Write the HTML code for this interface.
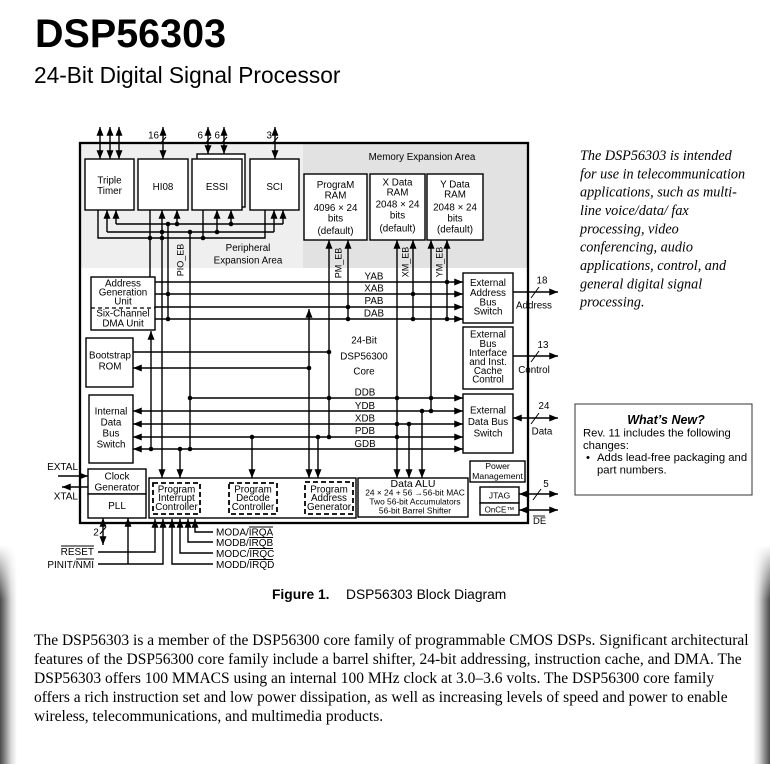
<!DOCTYPE html>
<html><head><meta charset="utf-8"><style>
html,body{margin:0;padding:0;background:#fff;}
body{width:770px;height:764px;overflow:hidden;position:relative;}
svg{position:absolute;left:0;top:0;}
text{font-family:"Liberation Sans",Arial,sans-serif;fill:#000;}
.s{font-family:"Liberation Serif","Times New Roman",serif;}
.e{marker-end:url(#a);}
.b{marker-start:url(#a);marker-end:url(#a);}
</style></head><body>
<svg width="770" height="764" viewBox="0 0 770 764" xmlns="http://www.w3.org/2000/svg">
<defs>
<marker id="a" viewBox="0 0 10 8" refX="10" refY="4" markerWidth="9" markerHeight="7" markerUnits="userSpaceOnUse" orient="auto-start-reverse"><path d="M0,0L10,4L0,8z" fill="#000"/></marker>
<linearGradient id="gl" x1="0" x2="1" y1="0" y2="0"><stop offset="0" stop-color="#4a4a4a"/><stop offset="0.3" stop-color="#8a8a8a"/><stop offset="0.65" stop-color="#d8d8d8"/><stop offset="1" stop-color="#fff"/></linearGradient>
<linearGradient id="gr" x1="1" x2="0" y1="0" y2="0"><stop offset="0" stop-color="#4a4a4a"/><stop offset="0.3" stop-color="#8a8a8a"/><stop offset="0.65" stop-color="#d8d8d8"/><stop offset="1" stop-color="#fff"/></linearGradient>
<linearGradient id="vf" x1="0" y1="0" x2="0" y2="1"><stop offset="0" stop-color="#000"/><stop offset="0.25" stop-color="#fff"/><stop offset="1" stop-color="#fff"/></linearGradient>
<mask id="m"><rect x="0" y="545" width="770" height="219" fill="url(#vf)"/></mask>
</defs>

<!-- page edge shading -->
<g mask="url(#m)">
<rect x="0" y="545" width="17" height="219" fill="url(#gl)"/>
<rect x="753" y="545" width="17" height="219" fill="url(#gr)"/>
</g>

<!-- Header -->
<text x="35" y="47" font-size="39.5" font-weight="bold">DSP56303</text>
<text x="34" y="83" font-size="22.7">24-Bit Digital Signal Processor</text>

<!-- background areas -->
<rect x="80" y="143" width="223" height="125" fill="#efefef"/>
<rect x="303" y="143" width="226" height="125" fill="#e2e2e2"/>
<rect x="80" y="143" width="448" height="380" fill="none" stroke="#000" stroke-width="2.3"/>

<g fill="none" stroke="#000" stroke-width="1.4">
<!-- top pin arrows -->
<path class="b" d="M100 127V159"/>
<path class="b" d="M110 127V159"/>
<path class="b" d="M119 127V159"/>
<path class="b" d="M163 127V159"/>
<path class="b" d="M208 127V154"/>
<path class="b" d="M224 127V154"/>
<path class="b" d="M275 127V159"/>
<path d="M160 144L166 137M205 144L211 137M221 144L227 137M272 144L278 137" stroke-width="1"/>

<!-- peripheral interconnect -->
<path d="M98 210V238H265V210"/>
<path d="M107 232H274"/>
<path class="e" d="M107 232V210"/>
<path class="e" d="M162 232V210"/>
<path class="e" d="M217 232V210"/>
<path class="e" d="M274 232V210"/>
<path d="M116 224H283"/>
<path class="e" d="M116 224V210"/>
<path class="e" d="M177 224V210"/>
<path class="e" d="M231 224V210"/>
<path class="e" d="M283 224V210"/>
<path d="M150 210V277"/>
<path d="M203 210V238"/>
<path class="e" d="M162 232V478"/>
<path d="M168 224V319"/>
<path d="M190 232V449"/>

<!-- memory expansion buses -->
<path class="e" d="M329 437V240"/>
<path class="e" d="M348 319V240"/>
<path class="b" d="M397 478V240"/>
<path class="e" d="M413 319V240"/>
<path class="e" d="M431 411V240"/>
<path class="e" d="M447 319V240"/>

<!-- address buses -->
<path class="e" d="M155 282H463"/>
<path class="e" d="M155 294H463"/>
<path class="e" d="M155 307H463"/>
<path class="e" d="M155 319H463"/>

<!-- core verticals -->
<path class="e" d="M151 449V331"/>
<path class="b" d="M309 478V309"/>
<path class="e" d="M318 437V478"/>
<path class="e" d="M252 437V478"/>
<path class="e" d="M180 449V478"/>
<path class="e" d="M409 424V478"/>
<path class="e" d="M422 411V478"/>

<!-- bootstrap -->
<path d="M133 352H329"/>
<path class="e" d="M309 368H133"/>

<!-- data buses -->
<path class="e" d="M190 398H463"/>
<path class="b" d="M133 411H463"/>
<path class="b" d="M133 424H463"/>
<path class="b" d="M133 437H463"/>
<path class="b" d="M133 449H463"/>

<!-- right outputs -->
<path class="e" d="M513 292H558"/>
<path class="e" d="M513 356H558"/>
<path class="b" d="M513 418H558"/>
<path class="b" d="M519 494H558"/>
<path class="b" d="M519 510H558"/>
<path d="M531 298L539 287M531 362L539 351M531 424L539 413M533 500L541 489" stroke-width="1"/>

<!-- program controllers -->
<path class="b" d="M200 497H229"/>
<path class="b" d="M277 497H305"/>

<!-- clock -->
<path class="e" d="M58 476H88"/>
<path class="e" d="M88 487H62"/>

<!-- bottom pins -->
<path class="b" d="M103 518V545"/>
<path d="M100 534L106 527" stroke-width="1"/>
<path class="e" d="M98 552H155V519"/>
<path class="e" d="M98 564H163V519"/>
<path class="e" d="M128 564V518"/>
<path class="e" d="M213 564H172V519"/>
<path class="e" d="M213 553H180V519"/>
<path class="e" d="M213 542H188V519"/>
<path class="e" d="M213 532H195V519"/>
</g>

<!-- boxes -->
<g fill="#fff" stroke="#000" stroke-width="1.4">
<rect x="85" y="159" width="49" height="51"/>
<rect x="138" y="159" width="50" height="51"/>
<rect x="197" y="154" width="48" height="53"/>
<rect x="192" y="159" width="50" height="51"/>
<rect x="250" y="159" width="49" height="51"/>
<rect x="304" y="174" width="63" height="66"/>
<rect x="370" y="174" width="55" height="66"/>
<rect x="427" y="174" width="56" height="66"/>
<rect x="91" y="277" width="64" height="53"/>
<rect x="86" y="338" width="47" height="49"/>
<rect x="89" y="395" width="44" height="68"/>
<rect x="463" y="273" width="50" height="50"/>
<rect x="463" y="327" width="50" height="62"/>
<rect x="463" y="394" width="50" height="59"/>
<rect x="470" y="461" width="55" height="21"/>
<rect x="480" y="487" width="39" height="16"/>
<rect x="480" y="503" width="39" height="12"/>
<rect x="358" y="478" width="110" height="39"/>
<rect x="88" y="469" width="58" height="25"/>
<rect x="88" y="494" width="58" height="24"/>
<rect x="149" y="478" width="207" height="40"/>
</g>
<g fill="#fff" stroke="#000" stroke-width="1.8" stroke-dasharray="5 3">
<rect x="153" y="483" width="47" height="31"/>
<rect x="229" y="483" width="48" height="31"/>
<rect x="305" y="482" width="48" height="32"/>
</g>
<path d="M91 308H155" stroke="#000" stroke-width="1.3" stroke-dasharray="4 3"/>

<!-- dots -->
<g fill="#000">
<circle cx="150" cy="238" r="2.3"/><circle cx="162" cy="238" r="2.3"/><circle cx="203" cy="238" r="2.3"/>
<circle cx="162" cy="232" r="2.3"/><circle cx="190" cy="232" r="2.3"/><circle cx="217" cy="232" r="2.3"/>
<circle cx="168" cy="224" r="2.3"/><circle cx="177" cy="224" r="2.3"/><circle cx="231" cy="224" r="2.3"/>
<circle cx="168" cy="294" r="2.3"/><circle cx="168" cy="319" r="2.3"/>
<circle cx="348" cy="307" r="2.3"/><circle cx="348" cy="319" r="2.3"/>
<circle cx="413" cy="294" r="2.3"/><circle cx="413" cy="319" r="2.3"/>
<circle cx="447" cy="282" r="2.3"/><circle cx="447" cy="319" r="2.3"/>
<circle cx="329" cy="352" r="2.3"/><circle cx="309" cy="368" r="2.3"/>
<circle cx="190" cy="398" r="2.3"/><circle cx="329" cy="398" r="2.3"/><circle cx="397" cy="398" r="2.3"/><circle cx="431" cy="398" r="2.3"/>
<circle cx="422" cy="411" r="2.3"/><circle cx="431" cy="411" r="2.3"/>
<circle cx="397" cy="424" r="2.3"/><circle cx="409" cy="424" r="2.3"/>
<circle cx="252" cy="437" r="2.3"/><circle cx="318" cy="437" r="2.3"/><circle cx="329" cy="437" r="2.3"/><circle cx="397" cy="437" r="2.3"/>
<circle cx="151" cy="449" r="2.3"/><circle cx="180" cy="449" r="2.3"/><circle cx="190" cy="449" r="2.3"/>
</g>

<!-- diagram labels -->
<g font-size="9.8" text-anchor="middle">
<text x="159" y="138.5" text-anchor="end">16</text>
<text x="203" y="138.5" text-anchor="end">6</text>
<text x="220" y="138.5" text-anchor="end">6</text>
<text x="272" y="138.5" text-anchor="end">3</text>
<text x="109.5" y="183.5">Triple</text>
<text x="109.5" y="194">Timer</text>
<text x="163" y="190">HI08</text>
<text x="217" y="190">ESSI</text>
<text x="274.5" y="190">SCI</text>
<text x="248" y="251">Peripheral</text>
<text x="248" y="263.5">Expansion Area</text>
<text x="422" y="160">Memory Expansion Area</text>

<text x="335.5" y="188">PrograM</text>
<text x="335.5" y="198.5">RAM</text>
<text x="335.5" y="211">4096 × 24</text>
<text x="335.5" y="221.5">bits</text>
<text x="335.5" y="234">(default)</text>
<text x="397.5" y="185.5">X Data</text>
<text x="397.5" y="195.5">RAM</text>
<text x="397.5" y="207.5">2048 × 24</text>
<text x="397.5" y="218.5">bits</text>
<text x="397.5" y="231.5">(default)</text>
<text x="455" y="187.5">Y Data</text>
<text x="455" y="197.5">RAM</text>
<text x="455" y="210.5">2048 × 24</text>
<text x="455" y="221.5">bits</text>
<text x="455" y="232.5">(default)</text>

<text font-size="9" transform="translate(183.5,260) rotate(-90)">PIO_EB</text>
<text font-size="9" transform="translate(341.5,263) rotate(-90)">PM_EB</text>
<text font-size="9" transform="translate(408.5,262) rotate(-90)">XM_EB</text>
<text font-size="9" transform="translate(442.5,262) rotate(-90)">YM_EB</text>

<text x="374" y="279.5">YAB</text>
<text x="374" y="291.5">XAB</text>
<text x="374" y="304">PAB</text>
<text x="374" y="316.5">DAB</text>

<text x="123" y="286.5">Address</text>
<text x="123" y="295.5">Generation</text>
<text x="123" y="304.5">Unit</text>
<text x="123" y="316.5">Six-Channel</text>
<text x="123" y="326.5">DMA   Unit</text>

<text x="110" y="358.5">Bootstrap</text>
<text x="110" y="369.5">ROM</text>

<text x="111" y="414.5">Internal</text>
<text x="111" y="425.5">Data</text>
<text x="111" y="436.5">Bus</text>
<text x="111" y="447.5">Switch</text>

<text x="364" y="343.5">24-Bit</text>
<text x="364" y="359.5">DSP56300</text>
<text x="364" y="374.5">Core</text>

<text x="365" y="395.5">DDB</text>
<text x="365" y="409">YDB</text>
<text x="365" y="421.5">XDB</text>
<text x="365" y="434">PDB</text>
<text x="365" y="447">GDB</text>

<text x="488" y="286">External</text>
<text x="488" y="296">Address</text>
<text x="488" y="305.5">Bus</text>
<text x="488" y="314.5">Switch</text>

<text x="488" y="337.5">External</text>
<text x="488" y="347">Bus</text>
<text x="488" y="356">Interface</text>
<text x="488" y="365">and Inst.</text>
<text x="488" y="374">Cache</text>
<text x="488" y="382.5">Control</text>

<text x="488" y="413.5">External</text>
<text x="488" y="425">Data Bus</text>
<text x="488" y="436.5">Switch</text>

<text x="542" y="283.5">18</text>
<text x="534" y="308.5">Address</text>
<text x="543" y="348">13</text>
<text x="534" y="373">Control</text>
<text x="544" y="409">24</text>
<text x="542" y="434.5">Data</text>
<text x="546" y="487">5</text>
<text x="533" y="524" text-anchor="start" font-size="9.5">DE</text>

<text x="497.5" y="469" font-size="8.7">Power</text>
<text x="497.5" y="479" font-size="8.7">Management</text>
<text x="499.5" y="498.5" font-size="8.7">JTAG</text>
<text x="499.5" y="512.5" font-size="8">OnCE™</text>

<text x="413" y="487" font-size="10.5">Data ALU</text>
<text x="415" y="495.5" font-size="8.4">24 × 24 + 56 →56-bit MAC</text>
<text x="415" y="504.5" font-size="8.4">Two 56-bit Accumulators</text>
<text x="415" y="513.5" font-size="8.4">56-bit Barrel Shifter</text>

<text x="176.5" y="492.5">Program</text>
<text x="176.5" y="501">Interrupt</text>
<text x="176.5" y="510">Controller</text>
<text x="253" y="492.5">Program</text>
<text x="253" y="501">Decode</text>
<text x="253" y="510">Controller</text>
<text x="329" y="492.5">Program</text>
<text x="329" y="501">Address</text>
<text x="329" y="510">Generator</text>

<text x="117" y="479.5" font-size="10">Clock</text>
<text x="117" y="490.5" font-size="10">Generator</text>
<text x="117" y="509" font-size="10">PLL</text>

<text x="78" y="470" text-anchor="end" font-size="10">EXTAL</text>
<text x="78" y="499.5" text-anchor="end" font-size="10">XTAL</text>
<text x="96" y="535.5" font-size="10">2</text>
<text x="94" y="555" text-anchor="end" font-size="10">RESET</text>
<text x="94" y="568" text-anchor="end" font-size="10">PINIT/NMI</text>
<text x="216" y="535.5" text-anchor="start" font-size="10">MODA/IRQA</text>
<text x="216" y="546" text-anchor="start" font-size="10">MODB/IRQB</text>
<text x="216" y="557" text-anchor="start" font-size="10">MODC/IRQC</text>
<text x="216" y="568" text-anchor="start" font-size="10">MODD/IRQD</text>
</g>
<!-- overlines -->
<g stroke="#000" stroke-width="0.9">
<path d="M533 516H545"/>
<path d="M61 546H94"/>
<path d="M76 559H94"/>
<path d="M249 527H273M249 537.5H273M249 548.5H273M249 559.5H273"/>
</g>

<!-- right italic note -->
<g class="s" font-size="14.2" font-style="italic">
<text class="s" x="580" y="160">The DSP56303 is intended</text>
<text class="s" x="580" y="178.3">for use in telecommunication</text>
<text class="s" x="580" y="196.6">applications, such as multi-</text>
<text class="s" x="580" y="215">line voice/data/ fax</text>
<text class="s" x="580" y="233.3">processing, video</text>
<text class="s" x="580" y="251.6">conferencing, audio</text>
<text class="s" x="580" y="270">applications, control, and</text>
<text class="s" x="580" y="288.3">general digital signal</text>
<text class="s" x="580" y="306.6">processing.</text>
</g>

<!-- What's new box -->
<rect x="575" y="404" width="177" height="91" fill="#fff" stroke="#333" stroke-width="1"/>
<text x="666" y="424" font-size="12.5" font-weight="bold" font-style="italic" text-anchor="middle">What’s New?</text>
<text x="583" y="436.5" font-size="11.3">Rev. 11 includes the following</text>
<text x="583" y="449" font-size="11.3">changes:</text>
<text x="586" y="461" font-size="11.3">•</text>
<text x="597" y="461" font-size="11.3">Adds lead-free packaging and</text>
<text x="597" y="473.5" font-size="11.3">part numbers.</text>

<!-- caption -->
<text x="272" y="599" font-size="13.8" font-weight="bold">Figure 1.</text>
<text x="346" y="599" font-size="13.8">DSP56303 Block Diagram</text>

<!-- paragraph -->
<g font-size="15.5">
<text class="s" x="34" y="645">The DSP56303 is a member of the DSP56300 core family of programmable CMOS DSPs. Significant architectural</text>
<text class="s" x="34" y="664">features of the DSP56300 core family include a barrel shifter, 24-bit addressing, instruction cache, and DMA. The</text>
<text class="s" x="34" y="683">DSP56303 offers 100 MMACS using an internal 100 MHz clock at 3.0–3.6 volts. The DSP56300 core family</text>
<text class="s" x="34" y="702">offers a rich instruction set and low power dissipation, as well as increasing levels of speed and power to enable</text>
<text class="s" x="34" y="721">wireless, telecommunications, and multimedia products.</text>
</g>
</svg>
</body></html>
